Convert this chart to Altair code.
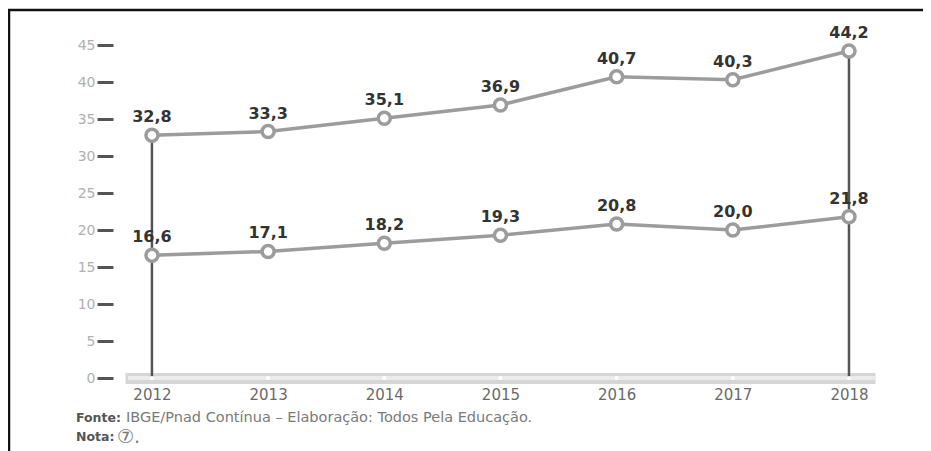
import altair as alt
import pandas as pd

years = [2012, 2013, 2014, 2015, 2016, 2017, 2018]
upper = [32.8, 33.3, 35.1, 36.9, 40.7, 40.3, 44.2]
lower = [16.6, 17.1, 18.2, 19.3, 20.8, 20.0, 21.8]
y_ticks = [0, 5, 10, 15, 20, 25, 30, 35, 40, 45]
fonte_label = "Fonte:"
fonte_text = "IBGE/Pnad Contínua – Elaboração: Todos Pela Educação."
nota_label = "Nota:"
nota_text = "⑦."

df = pd.DataFrame({
    "year": years * 2,
    "value": upper + lower,
    "series": ["upper"] * len(years) + ["lower"] * len(years),
})
ydf = pd.DataFrame({"year": years})

FONT = "DejaVu Sans"
W, H = 750, 338
xscale = alt.Scale(domain=[2011.768, 2018.224], nice=False, zero=False)
yscale = alt.Scale(domain=[0, 45.68], nice=False, zero=False)

X = alt.X("year:Q", scale=xscale, axis=alt.Axis(
    values=years, format="d", title=None, grid=False, ticks=False, tickSize=0,
    domainWidth=11, domainColor="#d6d6d6", labelFont=FONT, labelFontSize=15,
    labelColor="#6a6a6a", labelPadding=9))
Y = alt.Y("value:Q", scale=yscale, axis=alt.Axis(
    values=y_ticks, title=None, grid=False, domain=False, tickSize=16,
    tickWidth=3, tickColor="#555555", offset=12, labelColor="#b0b0b0",
    labelFont=FONT, labelFontSize=14, labelPadding=2))

base = alt.Chart(df)

band_inner = alt.Chart(alt.Data(values=[{}])).mark_rule(
    color="#ebebeb", strokeWidth=4).encode(
    x=alt.value(3), x2=alt.value(W), y=alt.value(H))

rules = base.transform_filter(
    (alt.datum.series == "upper") &
    ((alt.datum.year == years[0]) | (alt.datum.year == years[-1]))
).mark_rule(color="#555555", strokeWidth=2.5).encode(
    x=X, y=Y, y2=alt.datum(0))

lines = base.mark_line(color="#9c9c9c", strokeWidth=3.5).encode(
    x=X, y=Y, detail="series:N")

points = base.mark_circle(fill="white", stroke="#9c9c9c", strokeWidth=3.5,
                          size=145, opacity=1).encode(x=X, y=Y)

dots = alt.Chart(ydf).mark_circle(color="white", size=18, opacity=1).encode(
    x=alt.X("year:Q", scale=xscale), y=alt.value(H))

labels = base.transform_calculate(
    label="replace(format(datum.value, '.1f'), '.', ',')"
).mark_text(dy=-18, fontWeight="bold", fontSize=16, font=FONT,
            color="#333333").encode(x=X, y=Y, text="label:N")

one = alt.Data(values=[{}])
t1 = alt.Chart(one).mark_text(align="left", baseline="middle", font=FONT,
                              fontSize=12.5, fontWeight="bold", color="#555555").encode(
    x=alt.value(-49), y=alt.value(378), text=alt.value(fonte_label))
t2 = alt.Chart(one).mark_text(align="left", baseline="middle", font=FONT,
                              fontSize=14.5, color="#7a7a7a").encode(
    x=alt.value(1), y=alt.value(378), text=alt.value(fonte_text))
t3 = alt.Chart(one).mark_text(align="left", baseline="middle", font=FONT,
                              fontSize=12.5, fontWeight="bold", color="#555555").encode(
    x=alt.value(-49), y=alt.value(397), text=alt.value(nota_label))
t4 = alt.Chart(one).mark_text(align="left", baseline="middle", font=FONT,
                              fontSize=19, color="#7a7a7a").encode(
    x=alt.value(-8), y=alt.value(397), text=alt.value(nota_text))

border_top = alt.Chart(one).mark_rule(color="#111111", strokeWidth=2.5).encode(
    x=alt.value(-117), x2=alt.value(806), y=alt.value(-30))
border_left = alt.Chart(one).mark_rule(color="#111111", strokeWidth=2.5).encode(
    x=alt.value(-116), y=alt.value(-31), y2=alt.value(411))

chart = alt.layer(
    band_inner, rules, lines, points, dots, labels, t1, t2, t3, t4,
    border_top, border_left
).properties(
    width=W, height=H, autosize="none",
    padding={"left": 117, "top": 32, "right": 48, "bottom": 73},
).configure_view(stroke=None)

chart.save("out.html", embed_options={"renderer": "svg", "actions": False})
